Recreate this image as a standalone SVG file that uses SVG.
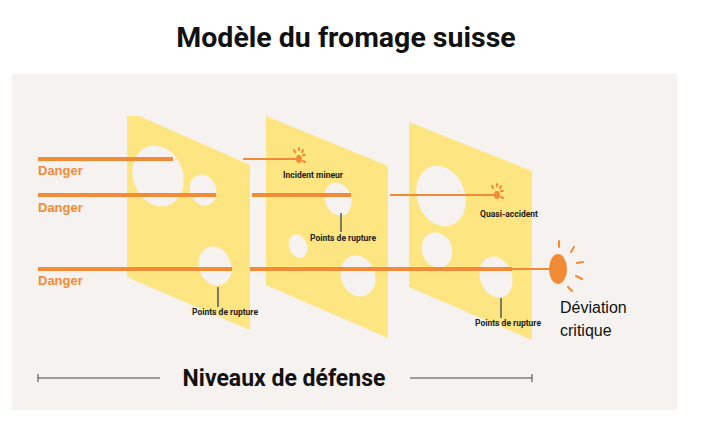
<svg xmlns="http://www.w3.org/2000/svg" width="705" height="433" viewBox="0 0 705 433">
<style>
.slab{fill:#fde581}.hole{fill:#f5f2ef}.ln{stroke:#f38a35;stroke-width:4}.thin{stroke:#f38a35;stroke-width:2}
.dg{font:bold 13px "Liberation Sans",Arial,sans-serif;fill:#f38a35}
.lb{font:bold 8.5px "Roboto","Liberation Sans",sans-serif;fill:#222;text-anchor:middle}
.tk{stroke:#555;stroke-width:1.5}
.ray{stroke:#f38a35;stroke-width:2;stroke-linecap:round}
</style>
<rect width="705" height="433" fill="#fff"/>
<rect x="12" y="74" width="665" height="336" fill="#f5f2ef"/>
<text x="346" y="47" text-anchor="middle" style="font:bold 28.5px 'Roboto','Liberation Sans',sans-serif" fill="#111">Modèle du fromage suisse</text>
<g id="slab1"><polygon class="slab" points="127,116 139,116 250,165 250,330 127,277"/>
<ellipse class="hole" cx="158" cy="176" rx="25" ry="31" transform="rotate(-20 158 176)"/><ellipse class="hole" cx="203" cy="190" rx="13" ry="16" transform="rotate(-20 203 190)"/><ellipse class="hole" cx="215" cy="266" rx="16" ry="20" transform="rotate(-20 215 266)"/></g>
<g id="slab2"><polygon class="slab" points="266,116 388,166 388,338 266,285"/>
<ellipse class="hole" cx="338" cy="199" rx="13" ry="17" transform="rotate(-20 338 199)"/><ellipse class="hole" cx="298" cy="246" rx="9" ry="12" transform="rotate(-20 298 246)"/><ellipse class="hole" cx="358" cy="276" rx="17" ry="21" transform="rotate(-20 358 276)"/></g>
<g id="slab3"><polygon class="slab" points="409,122 532,171 532,340 409,287"/>
<ellipse class="hole" cx="441" cy="196" rx="24" ry="31" transform="rotate(-20 441 196)"/><ellipse class="hole" cx="437" cy="250" rx="15" ry="18" transform="rotate(-20 437 250)"/><ellipse class="hole" cx="496" cy="277" rx="16" ry="21" transform="rotate(-20 496 277)"/></g>
<g id="connectors">
<line class="ln" x1="38" y1="159" x2="173" y2="159"/><line class="thin" x1="243" y1="159" x2="300" y2="159"/>
<line class="ln" x1="38" y1="195" x2="216" y2="195"/><line class="ln" x1="252" y1="195" x2="351" y2="195"/><line class="thin" x1="390" y1="195" x2="496" y2="195"/>
<line class="ln" x1="38" y1="269" x2="232" y2="269"/><line class="ln" x1="250" y1="269" x2="512" y2="269"/><line class="thin" x1="512" y1="269" x2="552" y2="269"/>
<line class="tk" x1="218" y1="287" x2="218" y2="307"/><line class="tk" x1="341" y1="213" x2="341" y2="232"/><line class="tk" x1="501" y1="298" x2="501" y2="318"/>
<line stroke="#444" stroke-width="1" x1="38" y1="378" x2="160" y2="378"/><line stroke="#444" x1="38" y1="374" x2="38" y2="382"/>
<line stroke="#444" stroke-width="1" x1="410" y1="378" x2="532" y2="378"/><line stroke="#444" x1="532" y1="374" x2="532" y2="382"/>
</g>
<g id="minor"><ellipse cx="299" cy="159" rx="3" ry="4" fill="#f38a35"/><path class="ray" stroke-width="1.2" d="M294 150l1 2M299 148v2M303 150l-1 2M305 155h-2M305 162l-2-1"/><text class="lb" x="313" y="178">Incident mineur</text></g>
<g id="quasi"><ellipse cx="497" cy="195" rx="3" ry="4" fill="#f38a35"/><path class="ray" stroke-width="1.2" d="M492 186l1 2M497 184v2M501 186l-1 2M503 191h-2M503 198l-2-1"/><text class="lb" x="509" y="217">Quasi-accident</text></g>
<g id="critical"><ellipse cx="558" cy="269" rx="9" ry="15" fill="#f38a35"/><path class="ray" stroke-width="3" d="M559 241v6M574 247l-3 5M583 262l-6 1M582 279l-6-3M572 291l-4-4"/>
<text x="560" y="313" style="font:16px 'Liberation Sans',Arial,sans-serif" fill="#111">Déviation</text><text x="560" y="336" style="font:16px 'Liberation Sans',Arial,sans-serif" fill="#111">critique</text></g>
<text class="dg" x="38" y="175">Danger</text><text class="dg" x="38" y="212">Danger</text><text class="dg" x="38" y="285">Danger</text>
<text class="lb" x="343" y="241">Points de rupture</text><text class="lb" x="225" y="315">Points de rupture</text><text class="lb" x="508" y="326">Points de rupture</text>
<text x="284" y="386" text-anchor="middle" style="font:bold 23px 'Roboto','Liberation Sans',sans-serif" fill="#111">Niveaux de défense</text>
</svg>
